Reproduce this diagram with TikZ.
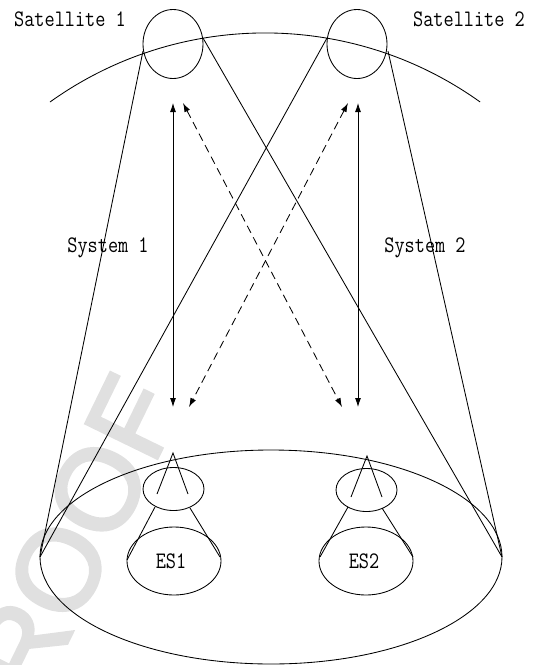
\documentclass[tikz,border=0pt]{standalone}
\usepackage{graphicx}
\usepackage{fontspec}
\newfontfamily\wmfont[FakeBold=3]{Liberation Sans}
\usetikzlibrary{arrows.meta,shapes.geometric}
\begin{document}
\begin{tikzpicture}[x=1pt,y=-1pt,line width=0.85pt,
  tipshape/.tip={Latex[length=9pt,width=6pt]},
  link/.style={tipshape-tipshape},
  dashlink/.style={link,dash pattern=on 8pt off 5pt},
  oval/.style={ellipse,draw,inner sep=0pt},
  sat/.style={oval,minimum width=60pt,minimum height=69pt},
  dish/.style={oval,minimum width=61pt,minimum height=43pt},
  station/.style={oval,minimum width=94pt,minimum height=68pt},
  lbl/.style={font=\ttfamily\fontsize{19.7}{20}\selectfont,inner sep=0pt},
  wmtext/.style={text=black!12,inner sep=0pt,font=\wmfont\fontsize{115}{115}\selectfont}]
\useasboundingbox (0,0) rectangle (534,665);

% faint watermark in the background
\begin{scope}
  \clip (0,0) rectangle (534,665);
  \node[wmtext,rotate=64,anchor=base east] (wm) at (184,403) {PROOF};
\end{scope}

% orbit arc
\draw (50,102) arc[start angle=-125.6,end angle=-54.4,radius=369.5];

% satellites
\node[sat] (sat1) at (173,44) {};
\node[sat] (sat2) at (357,44) {};
\coordinate (s1l) at (143,51);
\coordinate (s1r) at (203,38);
\coordinate (s2l) at (327,38);
\coordinate (s2r) at (388,51);

% coverage area on the ground
\draw (271,557) ellipse[x radius=231,y radius=107];
\coordinate (gl) at (40,557);
\coordinate (gr) at (502,557);

% beams
\draw (s1l) -- (gl);
\draw (s1r) -- (gr);
\draw (s2l) -- (gl);
\draw (s2r) -- (gr);

% earth stations
\node[dish] (d1) at (173.5,489) {};
\node[dish] (d2) at (366.5,490) {};
\node[station] (es1) at (174,561) {};
\node[station] (es2) at (366,561) {};
\node[lbl] (t1) at (171,561) {\scalebox{1}[1.2]{ES1}};
\node[lbl] (t2) at (364,561) {\scalebox{1}[1.2]{ES2}};

% antenna symbols
\coordinate (a1) at (173,453);
\coordinate (a1l) at (157,494);
\coordinate (a1r) at (188,494);
\draw (a1l) -- (a1) -- (a1r);
\coordinate (a2) at (367,456);
\coordinate (a2l) at (351,497);
\coordinate (a2r) at (382,497);
\draw (a2l) -- (a2) -- (a2r);

% cones from dish to station
\coordinate (c1a) at (155,507); \coordinate (c1b) at (127,560);
\coordinate (c1c) at (190,508); \coordinate (c1d) at (220,557);
\coordinate (c2a) at (348,507); \coordinate (c2b) at (320,557);
\coordinate (c2c) at (382,508); \coordinate (c2d) at (413,557);
\draw (c1a) -- (c1b);
\draw (c1c) -- (c1d);
\draw (c2a) -- (c2b);
\draw (c2c) -- (c2d);

% links
\coordinate (u1) at (173,103); \coordinate (v1) at (173,407);
\coordinate (u2) at (358,103); \coordinate (v2) at (358,407);
\coordinate (u3) at (183,103); \coordinate (v3) at (342,407);
\coordinate (u4) at (348,103); \coordinate (v4) at (189,407);
\draw[link] (u1) -- (v1);
\draw[link] (u2) -- (v2);
\draw[dashlink] (u3) -- (v3);
\draw[dashlink] (u4) -- (v4);

% labels
\node[lbl] (n1) at (70,19) {\scalebox{1}[1.2]{Satellite 1}};
\node[lbl] (n2) at (469,19) {\scalebox{1}[1.2]{Satellite 2}};
\node[lbl] (n3) at (108,248) {\scalebox{1}[1.2]{System 1}};
\node[lbl] (n4) at (425,248) {\scalebox{1}[1.2]{System 2}};
\end{tikzpicture}
\end{document}
